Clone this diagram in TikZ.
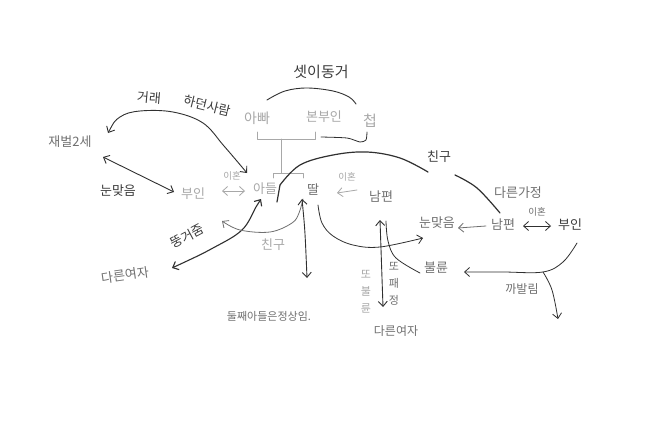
\documentclass[tikz,border=0pt]{standalone}
\usepackage{fontspec}
\newfontfamily\kr{Noto Sans CJK KR}
\usetikzlibrary{arrows.meta}
\definecolor{ltc}{HTML}{A8A8A8}
\definecolor{mdc}{HTML}{707070}
\definecolor{dkc}{HTML}{3C3C3C}
\definecolor{lnc}{HTML}{303030}
\tikzset{
  txt/.style={inner sep=0pt,font=\kr\fontsize{13}{15}\selectfont},
  lt/.style={txt,text=ltc},
  md/.style={txt,text=mdc},
  dk/.style={txt,text=dkc},
  sm/.style={font=\kr\fontsize{9.5}{11}\selectfont},
  vert/.style={align=center,font=\kr\fontsize{11}{17}\selectfont},
  ln/.style={draw=lnc,line width=0.9pt,line cap=round,line join=round},
  lnl/.style={draw=ltc,line width=0.8pt,line cap=round,line join=round},
  lnm/.style={draw=mdc,line width=0.8pt,line cap=round,line join=round},
  tip/.style={arrows={-Straight Barb[length=5pt,width=9pt]}},
  tips/.style={arrows={Straight Barb[length=5pt,width=9pt]-Straight Barb[length=5pt,width=9pt]}},
}
\begin{document}
\begin{tikzpicture}[x=1pt,y=-1pt]
\useasboundingbox[fill=white] (0,0) rectangle (661,423);
% ---------- texts ----------
\node[dk,font=\kr\fontsize{15}{17}\selectfont] (setdong) at (321,72) {셋이동거};
\node[lt,font=\kr\fontsize{14}{16}\selectfont] (abba) at (257,118) {아빠};
\node[lt] (bonbuin) at (324,117) {본부인};
\node[lt,font=\kr\fontsize{15}{17}\selectfont] (cheop) at (370,121) {첩};
\node[dk,rotate=-5] (georae) at (149,98) {거래};
\node[dk,rotate=-14] (hadeon) at (207,106) {하던사람};
\node[md] (jaebeol) at (70,142) {재벌2세};
\node[dk] (nun1) at (118,191) {눈맞음};
\node[lt] (buin1) at (193,194) {부인};
\node[lt,sm] (ihon1) at (232,176) {이혼};
\node[lt] (adeul) at (265,189) {아들};
\node[md] (ttal) at (313,190) {딸};
\node[lt,sm] (ihon2) at (347,177) {이혼};
\node[md] (nampyeon1) at (381,197) {남편};
\node[dk] (chingu1) at (439,157) {친구};
\node[md] (dareun) at (518,193) {다른가정};
\node[md] (nun2) at (437,223) {눈맞음};
\node[md] (nampyeon2) at (503,225) {남편};
\node[md,sm] (ihon3) at (537,212) {이혼};
\node[dk] (buin2) at (570,225) {부인};
\node[md] (bullyun) at (436,268) {불륜};
\node[md,font=\kr\fontsize{12}{14}\selectfont] (kkabal) at (522,289) {까발림};
\node[dk,rotate=28] (ttung) at (187,236) {뚱거줌};
\node[md,rotate=8] (yeoja1) at (125,275) {다른여자};
\node[lt] (chingu2) at (273,245) {친구};
\node[md,font=\kr\fontsize{11}{13}\selectfont] (dulsseo) at (269,316) {둘째아들은정상임.};
\node[lt,vert] (tto1) at (366,292) {또\\불\\륜};
\node[md,vert] (tto2) at (394,284) {또\\패\\정};
\node[md,font=\kr\fontsize{12}{14}\selectfont] (yeoja2) at (396,331) {다른여자};
% ---------- connector end points ----------
\coordinate (a1) at (267,100);  \coordinate (a2) at (356,104);
\coordinate (b1) at (321,137);  \coordinate (b2) at (367,132);
\coordinate (c1) at (108,133);  \coordinate (c2) at (247,173);
\coordinate (d1) at (103,157);  \coordinate (d2) at (174,192);
\coordinate (e1) at (222,191);  \coordinate (e2) at (245,191);
\coordinate (f1) at (172,268);  \coordinate (f2) at (261,199);
\coordinate (g1) at (303,199);  \coordinate (g2) at (222,221);
\coordinate (h1) at (302,199);  \coordinate (h2) at (307,278);
\coordinate (i0) at (277,202);  \coordinate (i1) at (280,185);
\coordinate (i2) at (428,172);  \coordinate (i3) at (455,175);  \coordinate (i4) at (500,213);
\coordinate (j1) at (318,205);  \coordinate (j2) at (423,238);
\coordinate (k1) at (357,190);  \coordinate (k2) at (337,193);
\coordinate (m1) at (380,220);  \coordinate (m2) at (383,307);
\coordinate (n1) at (386,221);  \coordinate (n2) at (420,273);
\coordinate (o1) at (486,226);  \coordinate (o2) at (458,228);
\coordinate (q1) at (523,226);  \coordinate (q2) at (551,226);
\coordinate (r1) at (577,243);  \coordinate (r0) at (543,272);  \coordinate (r2) at (464,272);
\coordinate (s2) at (558,319);
% ---------- family bracket ----------
\draw[lnl] (257,132) -- (257,139) -- (315,139) -- (315,132);
\draw[lnl] (281,139) -- (281,173);
\draw[lnl] (273,178) -- (273,173) -- (303,173) -- (303,178);
% ---------- connectors ----------
\draw[ln] plot[smooth,tension=0.6] coordinates {(a1) (285,91) (307,88) (333,91) (349,97) (a2)};
\draw[ln,line width=0.8pt] plot[smooth,tension=0.4] coordinates {(b1) (347,138) (360,142) (366,140) (b2)};
\draw[ln,tips] plot[smooth,tension=0.6] coordinates {(c1) (120,117) (140,111) (173,112) (203,123) (224,146) (c2)};
\draw[ln,tips] (d1) -- (d2);
\draw[lnl,tips] (e1) -- (e2);
\draw[ln,tips,line width=1.1pt] plot[smooth,tension=0.6] coordinates {(f1) (213,248) (242,230) (256,207) (f2)};
\draw[lnm,tip] plot[smooth,tension=0.6] coordinates {(g1) (299,213) (292,223) (270,232) (240,230) (g2)};
\draw[ln,tips] (h1) .. controls (305,230) .. (h2);
\draw[ln,line width=1.2pt] (i0) -- (i1);
\draw[ln,line width=1.2pt] plot[smooth,tension=0.6] coordinates {(i1) (300,165) (333,155) (367,152) (400,158) (i2)};
\draw[ln,line width=1.2pt] plot[smooth,tension=0.6] coordinates {(i3) (477,188) (i4)};
\draw[ln,tip,line width=0.8pt] plot[smooth,tension=0.6] coordinates {(j1) (322,223) (333,236) (353,245) (380,247) (j2)};
\draw[lnl,tip] (k1) -- (k2);
\draw[ln,tips] (m1) -- (m2);
\draw[ln,line width=0.8pt] plot[smooth,tension=0.6] coordinates {(n1) (388,241) (396,258) (n2)};
\draw[lnm,tip] (o1) -- (o2);
\draw[ln,tips,line width=0.8pt] (q1) -- (q2);
\draw[ln,tip,line width=0.8pt] plot[smooth,tension=0.6] coordinates {(r1) (563,262) (r0) (503,272) (r2)};
\draw[ln,tip,line width=0.8pt] plot[smooth,tension=0.6] coordinates {(r0) (552,290) (s2)};
\end{tikzpicture}
\end{document}
